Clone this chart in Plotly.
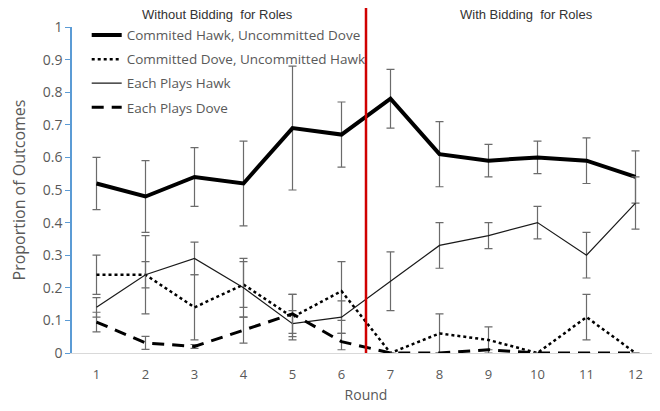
import plotly.graph_objects as go

# Rounds 1..12
rounds = list(range(1, 13))

# Commited Hawk, Uncommitted Dove
hd_vals = [0.52, 0.48, 0.54, 0.52, 0.69, 0.67, 0.78, 0.61, 0.59, 0.60, 0.59, 0.54]
hd_err = [0.08, 0.11, 0.09, 0.13, 0.19, 0.10, 0.09, 0.10, 0.05, 0.05, 0.07, 0.08]

# Committed Dove, Uncommitted Hawk
dh_vals = [0.24, 0.24, 0.14, 0.21, 0.11, 0.19, 0.00, 0.06, 0.04, 0.00, 0.11, 0.00]
dh_err = [0.06, 0.04, 0.10, 0.07, 0.07, 0.09, 0.00, 0.06, 0.04, 0.00, 0.07, 0.00]

# Each Plays Hawk
hh_vals = [0.14, 0.24, 0.29, 0.20, 0.09, 0.11, 0.22, 0.33, 0.36, 0.40, 0.30, 0.46]
hh_err = [0.03, 0.12, 0.05, 0.09, 0.04, 0.05, 0.09, 0.07, 0.04, 0.05, 0.07, 0.08]

# Each Plays Dove
dd_vals = [0.095, 0.031, 0.02, 0.07, 0.12, 0.035, 0.00, 0.00, 0.01, 0.00, 0.00, 0.00]
dd_err = [0.03, 0.02, 0.006, 0.04, 0.06, 0.025, 0.00, 0.00, 0.00, 0.00, 0.00, 0.00]

y_ticks = [0, 0.1, 0.2, 0.3, 0.4, 0.5, 0.6, 0.7, 0.8, 0.9, 1]
y_tick_text = ["0", "0.1", "0.2", "0.3", "0.4", "0.5", "0.6", "0.7", "0.8", "0.9", "1"]

GREY = "#595959"
ERR = dict(type="data", thickness=1.2, width=4, color="#6b6b6b")

series = [
    ("Commited Hawk, Uncommitted Dove", hd_vals, hd_err, dict(color="black", width=4)),
    ("Committed Dove, Uncommitted Hawk", dh_vals, dh_err, dict(color="black", width=2.5, dash="dot")),
    ("Each Plays Hawk", hh_vals, hh_err, dict(color="#1a1a1a", width=1.2)),
    ("Each Plays Dove", dd_vals, dd_err, dict(color="black", width=3, dash="12px,8px")),
]

fig = go.Figure()
for i, (name, vals, err, line) in enumerate(series):
    fig.add_trace(go.Scatter(
        x=rounds, y=vals, name=name, mode="lines",
        line=line, legendgroup=f"g{i}",
        error_y=dict(array=err, **ERR),
    ))

# red separator between round 6 and 7
fig.add_shape(type="line", xref="x", yref="paper", x0=6.5, x1=6.5, y0=0, y1=1.06,
              line=dict(color="#d00000", width=2.5))

fig.add_annotation(text="Without Bidding  for Roles", xref="x", yref="paper", x=3.47, y=1.037,
                   yanchor="middle", showarrow=False,
                   font=dict(family="Liberation Sans", size=13, color="#333333"))
fig.add_annotation(text="With Bidding  for Roles", xref="x", yref="paper", x=9.77, y=1.037,
                   yanchor="middle", showarrow=False,
                   font=dict(family="Liberation Sans", size=13, color="#333333"))

# page body has an 8px margin, so the figure is sized/offset to land on the 660x411 window
fig.update_layout(
    width=652, height=403,
    margin=dict(l=64, r=0, t=19, b=58, autoexpand=False),
    paper_bgcolor="white", plot_bgcolor="white",
    font=dict(family="Open Sans", color=GREY),
    showlegend=True,
    legend=dict(x=0.025, y=1.022, xanchor="left", yanchor="top",
                bgcolor="rgba(0,0,0,0)", font=dict(size=13.5, color=GREY),
                traceorder="grouped", tracegroupgap=3.5),
    xaxis=dict(range=[0.5, 12.5], tickvals=rounds, showgrid=False, zeroline=False,
               showline=True, linecolor="#d9d9d9", linewidth=1, ticks="",
               tickfont=dict(size=13, color=GREY), automargin=False, ticklabelstandoff=9,
               title=dict(text="Round", font=dict(size=14, color=GREY), standoff=8)),
    yaxis=dict(range=[0, 1], tickvals=y_ticks, ticktext=y_tick_text, showgrid=False,
               zeroline=False, showline=True, linecolor="#5b9bd5", linewidth=1.5,
               ticks="outside", ticklen=5, tickcolor="#5b9bd5", automargin=False,
               tickfont=dict(size=14, color=GREY),
               title=dict(text="Proportion of Outcomes", font=dict(size=16, color=GREY), standoff=20)),
)

fig.write_html("out.html")
